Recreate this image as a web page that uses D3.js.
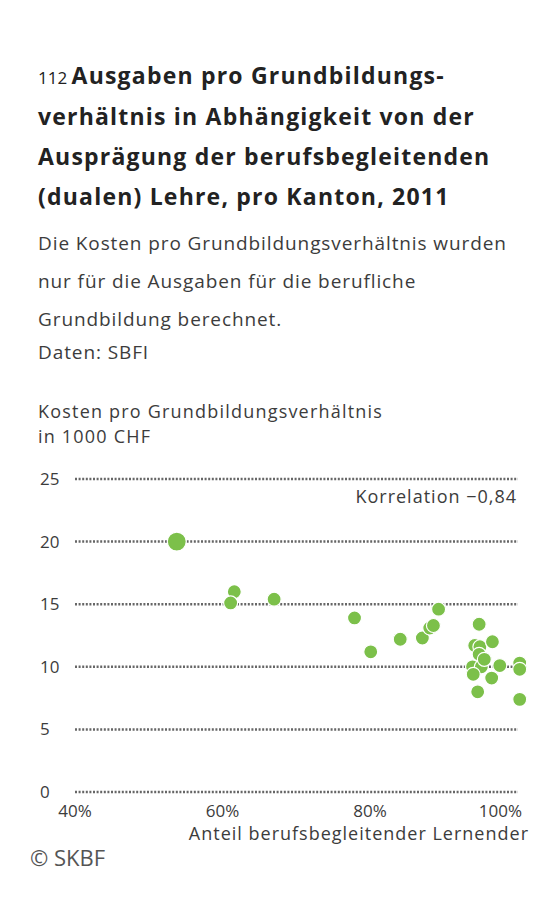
<!DOCTYPE html><html><head><meta charset="utf-8"><script src="https://cdn.jsdelivr.net/npm/d3@7"></script>
<style>body{margin:0;background:#fff}text{font-family:"Open Sans",sans-serif}</style></head><body><script>
const xs=[53.8,61.6,61.1,67.0,77.9,80.1,84.1,87.1,88.1,88.6,89.3,94.8,94.2,94.9,96.6,94.8,93.9,95.1,97.6,100.3,100.3,94.0,96.5,94.6,100.3,95.5];
const ys=[20.0,16.0,15.1,15.4,13.9,11.2,12.2,12.3,13.1,13.3,14.6,13.4,11.7,11.6,12.0,11.0,10.0,10.0,10.1,10.3,9.8,9.4,9.1,8.0,7.4,10.6];
const yTicks=[0,5,10,15,20,25];
const xTicks=[40,60,80,100];
const svg=d3.select("body").append("svg").attr("width",560).attr("height",912);
const x=d3.scaleLinear().domain([40,100]).range([75,517.5]);
const y=d3.scaleLinear().domain([0,25]).range([792,479]);
const c="#3c3c3c";
const t=svg.append("text").attr("x",38).attr("y",84).attr("fill","#222").style("font-size","23px").style("font-weight","bold").style("letter-spacing","1.2px");
t.append("tspan").text("112 ").style("font-weight","normal").style("font-size","17px").style("letter-spacing","0px");
t.append("tspan").text("Ausgaben pro Grundbildungs-");
["verhältnis in Abhängigkeit von der","Ausprägung der berufsbegleitenden","(dualen) Lehre, pro Kanton, 2011"].forEach((s,i)=>svg.append("text").attr("x",38).attr("y",125+i*40).attr("fill","#222").style("font-size","23px").style("font-weight","bold").style("letter-spacing","1.2px").text(s));
["Die Kosten pro Grundbildungsverhältnis wurden","nur für die Ausgaben für die berufliche","Grundbildung berechnet."].forEach((s,i)=>svg.append("text").attr("x",38).attr("y",250+i*38).attr("fill",c).style("font-size","19px").style("letter-spacing","0.9px").text(s));
svg.append("text").attr("x",38).attr("y",359).attr("fill",c).style("font-size","19px").style("letter-spacing","0.9px").text("Daten: SBFI");
["Kosten pro Grundbildungsverhältnis","in 1000 CHF"].forEach((s,i)=>svg.append("text").attr("x",38).attr("y",418+i*25).attr("fill",c).style("font-size","18px").style("letter-spacing","1.2px").text(s));
yTicks.forEach(v=>{
 svg.append("line").attr("x1",75).attr("x2",518).attr("y1",y(v)).attr("y2",y(v)).attr("stroke","#666").attr("stroke-width",2.5).attr("stroke-dasharray","2,1.6");
 svg.append("text").attr("x",40).attr("y",y(v)+6).attr("fill",c).style("font-size","17px").text(v);
});
xTicks.forEach(v=>svg.append("text").attr("x",v==100?522:x(v)).attr("y",817).attr("text-anchor",v==100?"end":"middle").attr("fill",c).style("font-size","17px").text(v+"%"));
svg.append("text").attr("x",529).attr("y",840).attr("text-anchor","end").attr("fill",c).style("font-size","18px").style("letter-spacing","1px").text("Anteil berufsbegleitender Lernender");
svg.append("text").attr("x",517).attr("y",503).attr("text-anchor","end").attr("fill",c).style("font-size","18px").style("letter-spacing","1px").text("Korrelation −0,84");
svg.append("text").attr("x",30).attr("y",866).attr("fill","#555").style("font-size","22px").text("© SKBF");
svg.selectAll("circle").data(xs).join("circle").attr("cx",d=>x(d)).attr("cy",(d,i)=>y(ys[i])).attr("r",(d,i)=>i==0?9.5:7).attr("fill","#7cc04a").attr("stroke","#fff").attr("stroke-width",1.2);
</script></body></html>
